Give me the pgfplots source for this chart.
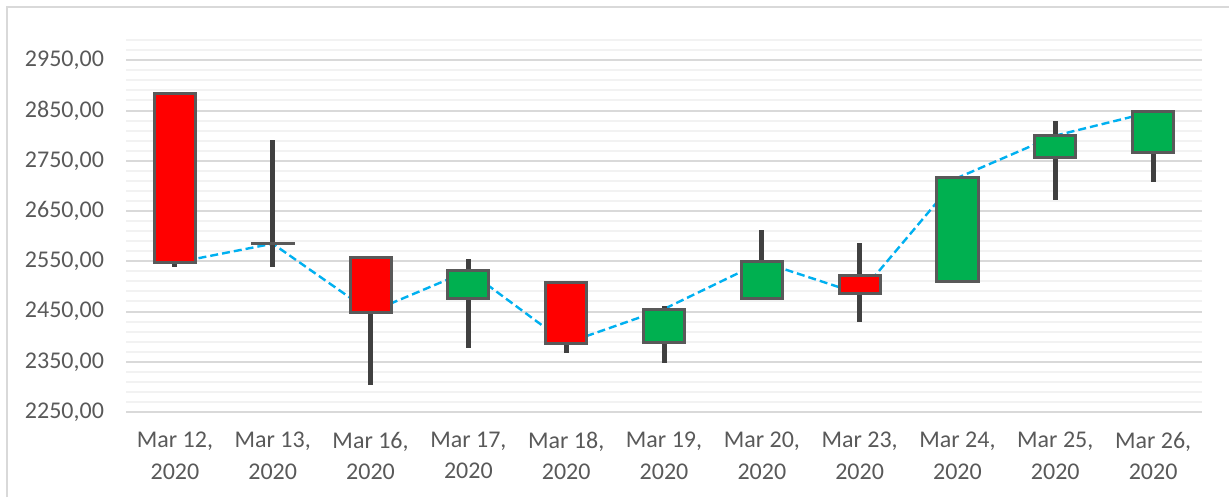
\documentclass[border=0pt]{standalone}
\usepackage{fontspec}
\setmainfont{Carlito}
\usepackage{pgfplots}
\pgfplotsset{compat=1.18}
\usepgfplotslibrary{statistics}

\definecolor{upgreen}{HTML}{00B050}
\definecolor{downred}{HTML}{FF0000}
\definecolor{edgegray}{HTML}{595959}
\definecolor{wickgray}{HTML}{404040}
\definecolor{closeblue}{HTML}{00B0F0}
\definecolor{majorgrid}{HTML}{D9D9D9}
\definecolor{minorgrid}{HTML}{F2F2F2}
\definecolor{labelgray}{HTML}{595959}

\pgfplotsset{
  candle/.style={
    boxplot/draw direction=y,
    boxplot/box extend=0.42,
    boxplot/whisker extend=0,
    boxplot/every whisker/.style={draw=wickgray, line width=2.5pt},
    boxplot/every median/.style={draw=edgegray, line width=1.5pt},
  },
  up/.style={candle, boxplot/every box/.style={draw=edgegray, line width=1.5pt, fill=upgreen}},
  down/.style={candle, boxplot/every box/.style={draw=edgegray, line width=1.5pt, fill=downred}},
}

\begin{document}
\begin{tikzpicture}
\useasboundingbox (0,0) rectangle (614.5pt,248.5pt);
% outer frame (top and left visible)
\draw[majorgrid, line width=1pt] (3.4pt,0) -- (3.4pt,245.2pt) -- (614.5pt,245.2pt);

\begin{axis}[
    at={(63pt,42.5pt)}, anchor=south west,
    scale only axis,
    width=538pt, height=185.9pt,
    xmin=-0.5, xmax=10.5,
    ymin=2250, ymax=2990,
    axis line style={draw=none},
    major tick length=0, minor tick length=0,
    xtick={0,...,10},
    xticklabels={{Mar 12,\\2020},{Mar 13,\\2020},{Mar 16,\\2020},{Mar 17,\\2020},{Mar 18,\\2020},{Mar 19,\\2020},{Mar 20,\\2020},{Mar 23,\\2020},{Mar 24,\\2020},{Mar 25,\\2020},{Mar 26,\\2020}},
    ytick={2250,2350,...,2950},
    minor ytick={2270,2290,...,2990},
    ymajorgrids, yminorgrids,
    major grid style={majorgrid, line width=1pt},
    minor grid style={minorgrid, line width=1pt},
    ticklabel style={font=\fontsize{12}{15.7}\selectfont, text=labelgray},
    xticklabel style={align=center, yshift=-6.5pt},
    yticklabel style={xshift=-7.5pt},
    /pgf/number format/.cd, fixed, fixed zerofill, precision=2, use comma, 1000 sep={}, assume math mode=true,
]

% closing prices
\addplot[closeblue, line width=1.2pt, dash pattern=on 4pt off 2pt] coordinates {
  (0,2547) (1,2585) (2,2449) (3,2531) (4,2387) (5,2455)
  (6,2549) (7,2485) (8,2716) (9,2800) (10,2848)
};

% candles: lower whisker = low, quartiles = open/close, upper whisker = high
\addplot[down, boxplot prepared={draw position=0, lower whisker=2538, lower quartile=2547, median=2547, upper quartile=2884, upper whisker=2884}] coordinates {};
\addplot[down, boxplot prepared={draw position=1, lower whisker=2539, lower quartile=2585, median=2585, upper quartile=2585.5, upper whisker=2792}] coordinates {};
\addplot[down, boxplot prepared={draw position=2, lower whisker=2303, lower quartile=2449, median=2449, upper quartile=2558, upper whisker=2558}] coordinates {};
\addplot[up, boxplot prepared={draw position=3, lower whisker=2377, lower quartile=2475, median=2475, upper quartile=2531, upper whisker=2554}] coordinates {};
\addplot[down, boxplot prepared={draw position=4, lower whisker=2367, lower quartile=2387, median=2387, upper quartile=2508, upper whisker=2508}] coordinates {};
\addplot[up, boxplot prepared={draw position=5, lower whisker=2347, lower quartile=2388, median=2388, upper quartile=2455, upper whisker=2460}] coordinates {};
\addplot[up, boxplot prepared={draw position=6, lower whisker=2475, lower quartile=2475, median=2475, upper quartile=2549, upper whisker=2613}] coordinates {};
\addplot[down, boxplot prepared={draw position=7, lower whisker=2430, lower quartile=2485, median=2485, upper quartile=2521, upper whisker=2587}] coordinates {};
\addplot[up, boxplot prepared={draw position=8, lower whisker=2509, lower quartile=2509, median=2509, upper quartile=2716, upper whisker=2716}] coordinates {};
\addplot[up, boxplot prepared={draw position=9, lower whisker=2671, lower quartile=2757, median=2757, upper quartile=2800, upper whisker=2829}] coordinates {};
\addplot[up, boxplot prepared={draw position=10, lower whisker=2707, lower quartile=2766, median=2766, upper quartile=2848, upper whisker=2848}] coordinates {};

\end{axis}
\end{tikzpicture}
\end{document}
